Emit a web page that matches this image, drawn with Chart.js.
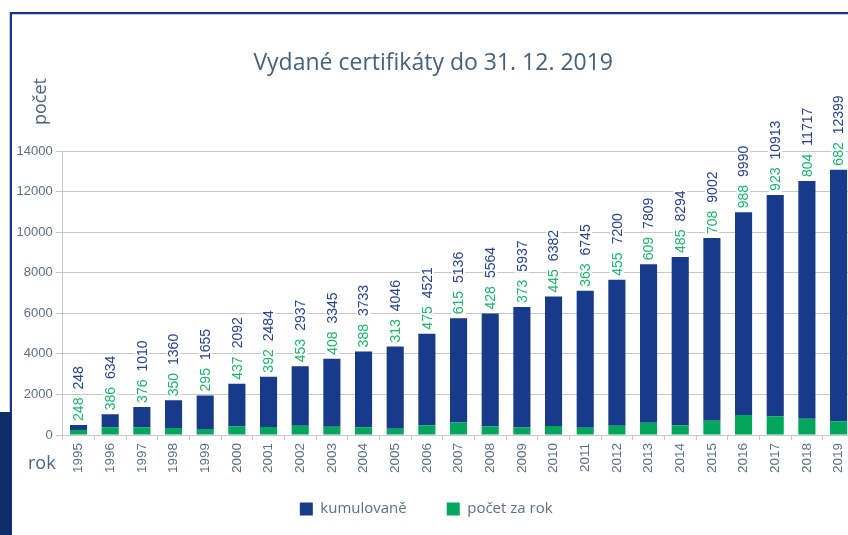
<!DOCTYPE html>
<html><head><meta charset="utf-8">
<script src="https://cdn.jsdelivr.net/npm/chart.js@4.4.0/dist/chart.umd.min.js"></script>
<style>
html,body{margin:0;padding:0;overflow:hidden;background:#fff;width:848px;height:535px;}
#wrap{position:absolute;left:0;top:0;width:872px;height:535px;}
.fr-top{position:absolute;left:10px;top:12px;width:860px;height:2px;background:#1b2f8c;}
.fr-top2{position:absolute;left:12px;top:14px;width:860px;height:1px;background:#c9cbd6;}
.fr-left{position:absolute;left:10px;top:12px;width:2px;height:523px;background:#1b2f8c;}
.fr-left2{position:absolute;left:9px;top:12px;width:1px;height:400px;background:#c9cbd6;}
.fr-block{position:absolute;left:0;top:412px;width:11px;height:123px;background:#0c2d66;}
</style></head>
<body>
<div id="wrap"><canvas id="c" width="872" height="535" style="width:872px;height:535px"></canvas></div>
<div class="fr-top"></div><div class="fr-top2"></div><div class="fr-left"></div><div class="fr-left2"></div><div class="fr-block"></div>
<script>
const years = ['1995','1996','1997','1998','1999','2000','2001','2002','2003','2004','2005','2006','2007','2008','2009','2010','2011','2012','2013','2014','2015','2016','2017','2018','2019'];
const cumulative = [248,634,1010,1360,1655,2092,2484,2937,3345,3733,4046,4521,5136,5564,5937,6382,6745,7200,7809,8294,9002,9990,10913,11717,12399];
const perYear = [248,386,376,350,295,437,392,453,408,388,313,475,615,428,373,445,363,455,609,485,708,988,923,804,682];
const seriesNames = ['počet za rok','kumulovaně'];
const titleText = 'Vydané certifikáty do 31. 12. 2019';
const yAxisTitle = 'počet';
const xAxisTitle = 'rok';

const BLUE = '#173a8b', GREEN = '#00a65b';
const BLUE_TXT = '#274390', GREEN_TXT = '#1fb36c';
const TXT = '#4a657c', TICK = '#5b7085', GRID = '#c6c6c6';

const valueLabels = {
  id: 'valueLabels',
  afterDatasetsDraw(chart) {
    const ctx = chart.ctx;
    const top = chart.getDatasetMeta(1);
    ctx.save();
    ctx.font = '14px "Liberation Sans", Arial, sans-serif';
    ctx.textBaseline = 'middle';
    ctx.textAlign = 'left';
    top.data.forEach((bar, i) => {
      let y = bar.y - 4;
      [[perYear[i], GREEN_TXT], [cumulative[i], BLUE_TXT]].forEach(([v, col]) => {
        const t = String(v);
        const w = ctx.measureText(t).width;
        ctx.save();
        ctx.translate(bar.x, y);
        ctx.rotate(-Math.PI / 2);
        ctx.fillStyle = '#fff';
        ctx.fillRect(-1, -7, w + 2, 14);
        ctx.fillStyle = col;
        ctx.fillText(t, 0, 1);
        ctx.restore();
        y -= w + 8;
      });
    });
    ctx.restore();
  }
};

const axisTitles = {
  id: 'axisTitles',
  afterLayout(chart) {
    // let the rotated year labels extend below the axis box without being clipped
    const s = chart.scales.x;
    s.bottom = s.top + 50;
    // nudge the legend a little to the left, as in the reference
    if (chart.legend) { chart.legend.left -= 7; chart.legend.right -= 7; }
  },
  afterDraw(chart) {
    const ctx = chart.ctx;
    const a = chart.chartArea;
    ctx.save();
    ctx.fillStyle = TXT;
    ctx.font = '18px "Open Sans", sans-serif';
    ctx.textBaseline = 'alphabetic';
    ctx.save();
    ctx.translate(a.left - 17, a.top - 26);
    ctx.rotate(-Math.PI / 2);
    ctx.textAlign = 'left';
    ctx.fillText(yAxisTitle, 0, 0);
    ctx.restore();
    ctx.textAlign = 'left';
    ctx.fillText(xAxisTitle, 28, a.bottom + 34);
    ctx.restore();
  }
};

new Chart(document.getElementById('c'), {
  type: 'bar',
  data: {
    labels: years,
    datasets: [
      { label: seriesNames[0], data: perYear, backgroundColor: GREEN, borderWidth: 0 },
      { label: seriesNames[1], data: cumulative, backgroundColor: BLUE, borderWidth: 0 }
    ]
  },
  options: {
    responsive: false,
    animation: false,
    datasets: { bar: { barPercentage: 0.54, categoryPercentage: 1.0 } },
    layout: { padding: { left: 12, right: 17.6, top: 0, bottom: 8.5 } },
    plugins: {
      tooltip: { enabled: false },
      title: {
        display: true, text: titleText, color: '#46627a',
        font: { family: '"Open Sans", sans-serif', size: 23, weight: 'normal' },
        padding: { top: 50, bottom: 73.4 }
      },
      legend: {
        position: 'bottom', reverse: true,
        labels: {
          boxWidth: 13, boxHeight: 13, padding: 40, color: TICK,
          font: { family: '"Open Sans", sans-serif', size: 15 }
        }
      }
    },
    scales: {
      x: {
        stacked: true,
        afterFit(s) { s.height = 26.5; },
        grid: { drawOnChartArea: false, tickLength: 5, color: GRID },
        border: { color: GRID },
        ticks: { autoSkip: false, minRotation: 90, maxRotation: 90, padding: 3, color: TICK,
          font: { family: '"Liberation Sans", Arial, sans-serif', size: 13.5 } }
      },
      y: {
        stacked: true, min: 0, max: 14000,
        afterFit(s) { s.width = 50.7; },
        grid: { color: GRID, tickLength: 7 },
        border: { color: GRID },
        ticks: { stepSize: 2000, padding: 3, color: TICK,
          callback: (v) => String(v),
          font: { family: '"Liberation Sans", Arial, sans-serif', size: 13 } }
      }
    }
  },
  plugins: [valueLabels, axisTitles]
});
</script>
</body></html>
